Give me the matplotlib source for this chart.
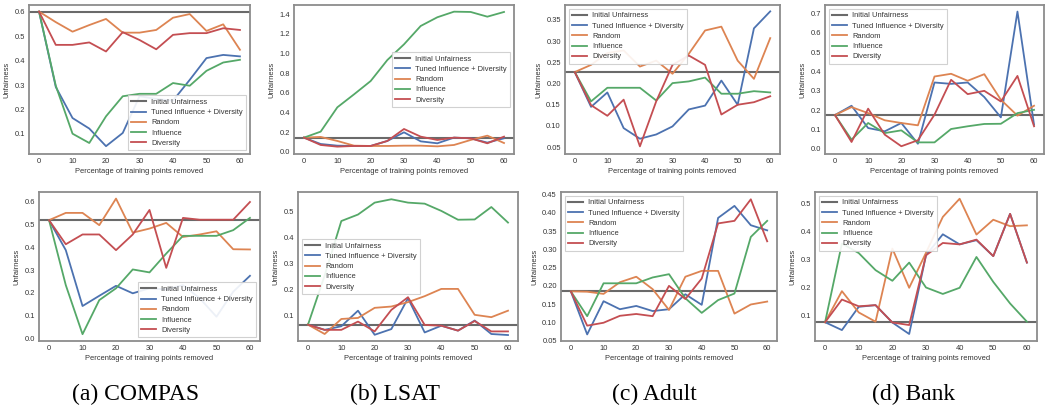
import matplotlib
matplotlib.use("Agg")
import matplotlib.pyplot as plt
import numpy as np

# ---------------- data ----------------
x_removed = [0, 5, 10, 15, 20, 25, 30, 35, 40, 45, 50, 55, 60]
series_names = ["Tuned Influence + Diversity", "Random", "Influence", "Diversity"]
initial_label = "Initial Unfairness"
captions = ["(a) COMPAS", "(b) LSAT", "(c) Adult", "(d) Bank"]
x_label = "Percentage of training points removed"
y_label = "Unfairness"

# top row
compas_top_initial = 0.6
compas_top_tuned = [0.6, 0.292, 0.165, 0.122, 0.05, 0.104, 0.254, 0.243, 0.236, 0.321, 0.41, 0.423, 0.417]
compas_top_random = [0.6, 0.557, 0.518, 0.545, 0.570, 0.514, 0.514, 0.525, 0.575, 0.590, 0.521, 0.548, 0.444]
compas_top_influence = [0.6, 0.297, 0.101, 0.063, 0.172, 0.254, 0.264, 0.264, 0.308, 0.297, 0.358, 0.392, 0.403]
compas_top_diversity = [0.6, 0.464, 0.464, 0.474, 0.437, 0.516, 0.484, 0.446, 0.505, 0.512, 0.512, 0.532, 0.525]

lsat_top_initial = 0.143
lsat_top_tuned = [0.143, 0.078, 0.061, 0.058, 0.058, 0.109, 0.197, 0.105, 0.085, 0.143, 0.136, 0.092, 0.136]
lsat_top_random = [0.143, 0.150, 0.109, 0.061, 0.058, 0.058, 0.061, 0.061, 0.054, 0.068, 0.119, 0.163, 0.088]
lsat_top_influence = [0.143, 0.204, 0.452, 0.584, 0.72, 0.934, 1.094, 1.281, 1.37, 1.427, 1.424, 1.376, 1.424]
lsat_top_diversity = [0.143, 0.068, 0.051, 0.058, 0.058, 0.109, 0.231, 0.153, 0.119, 0.143, 0.136, 0.085, 0.153]

adult_top_initial = 0.227
adult_top_tuned = [0.227, 0.145, 0.179, 0.095, 0.07, 0.08, 0.099, 0.139, 0.148, 0.207, 0.15, 0.33, 0.37]
adult_top_random = [0.227, 0.244, 0.272, 0.278, 0.24, 0.254, 0.223, 0.27, 0.325, 0.334, 0.254, 0.211, 0.307]
adult_top_influence = [0.227, 0.158, 0.19, 0.19, 0.19, 0.16, 0.201, 0.205, 0.214, 0.176, 0.176, 0.182, 0.179]
adult_top_diversity = [0.227, 0.149, 0.124, 0.162, 0.052, 0.158, 0.244, 0.266, 0.244, 0.127, 0.15, 0.156, 0.17]

bank_top_initial = 0.175
bank_top_tuned = [0.175, 0.223, 0.108, 0.091, 0.134, 0.027, 0.343, 0.336, 0.343, 0.268, 0.163, 0.709, 0.125]
bank_top_random = [0.175, 0.216, 0.185, 0.148, 0.134, 0.122, 0.374, 0.388, 0.352, 0.386, 0.254, 0.172, 0.223]
bank_top_influence = [0.175, 0.048, 0.134, 0.082, 0.096, 0.034, 0.034, 0.103, 0.117, 0.129, 0.13, 0.185, 0.202]
bank_top_diversity = [0.175, 0.036, 0.208, 0.074, 0.014, 0.045, 0.177, 0.357, 0.283, 0.3, 0.245, 0.377, 0.117]

# bottom row
compas_bot_initial = 0.52
compas_bot_tuned = [0.52, 0.388, 0.142, 0.187, 0.231, 0.198, 0.22, 0.215, 0.234, 0.176, 0.095, 0.205, 0.275]
compas_bot_random = [0.52, 0.552, 0.552, 0.498, 0.615, 0.465, 0.483, 0.508, 0.446, 0.457, 0.471, 0.392, 0.391]
compas_bot_influence = [0.52, 0.234, 0.018, 0.168, 0.22, 0.303, 0.29, 0.373, 0.451, 0.451, 0.451, 0.476, 0.53]
compas_bot_diversity = [0.52, 0.414, 0.457, 0.457, 0.388, 0.457, 0.565, 0.31, 0.53, 0.522, 0.522, 0.522, 0.6]

lsat_bot_initial = 0.065
lsat_bot_tuned = [0.065, 0.045, 0.059, 0.119, 0.026, 0.048, 0.167, 0.035, 0.061, 0.042, 0.081, 0.029, 0.025]
lsat_bot_random = [0.065, 0.029, 0.087, 0.091, 0.13, 0.135, 0.152, 0.175, 0.203, 0.203, 0.103, 0.094, 0.119]
lsat_bot_influence = [0.065, 0.255, 0.465, 0.49, 0.536, 0.549, 0.536, 0.532, 0.504, 0.47, 0.471, 0.519, 0.459]
lsat_bot_diversity = [0.065, 0.045, 0.045, 0.077, 0.039, 0.122, 0.171, 0.064, 0.061, 0.042, 0.079, 0.039, 0.039]

adult_bot_initial = 0.185
adult_bot_tuned = [0.185, 0.067, 0.158, 0.136, 0.145, 0.131, 0.136, 0.177, 0.148, 0.386, 0.419, 0.366, 0.352]
adult_bot_random = [0.185, 0.184, 0.178, 0.21, 0.225, 0.191, 0.134, 0.225, 0.241, 0.241, 0.124, 0.149, 0.157]
adult_bot_influence = [0.185, 0.117, 0.207, 0.207, 0.207, 0.223, 0.232, 0.166, 0.126, 0.161, 0.179, 0.334, 0.378]
adult_bot_diversity = [0.185, 0.091, 0.099, 0.118, 0.123, 0.117, 0.2, 0.164, 0.22, 0.371, 0.378, 0.437, 0.322]

bank_bot_initial = 0.077
bank_bot_tuned = [0.077, 0.049, 0.132, 0.138, 0.076, 0.035, 0.316, 0.391, 0.355, 0.37, 0.313, 0.464, 0.29]
bank_bot_random = [0.077, 0.188, 0.112, 0.079, 0.34, 0.2, 0.325, 0.453, 0.518, 0.39, 0.443, 0.42, 0.423]
bank_bot_influence = [0.077, 0.358, 0.324, 0.263, 0.225, 0.29, 0.201, 0.178, 0.2, 0.31, 0.221, 0.144, 0.079]
bank_bot_diversity = [0.077, 0.158, 0.134, 0.138, 0.076, 0.067, 0.316, 0.36, 0.355, 0.372, 0.313, 0.464, 0.29]

# ---------------- style ----------------
plt.rcParams["font.family"] = ["Liberation Sans", "DejaVu Sans"]
FS = 5.4
colors = ["#4C72B0", "#DD8452", "#55A868", "#C44E52"]
init_color = "#6a6a6a"
spine_color = "#8c8c8c"

W, H = 1045, 408
fig = plt.figure(figsize=(W / 100, H / 100), dpi=100)


def px_axes(l, t, r, b):
    return fig.add_axes([l / W, 1 - b / H, (r - l) / W, (b - t) / H])


panels = [
    # (box px, initial, series, ylim, ystep, legend loc)
    ((29, 5, 250, 154), compas_top_initial,
     [compas_top_tuned, compas_top_random, compas_top_influence, compas_top_diversity],
     (0.018, 0.627), 0.1, "lower right"),
    ((294, 5, 514, 154), lsat_top_initial,
     [lsat_top_tuned, lsat_top_random, lsat_top_influence, lsat_top_diversity],
     (-0.024, 1.495), 0.2, "center right"),
    ((565, 5, 780, 154), adult_top_initial,
     [adult_top_tuned, adult_top_random, adult_top_influence, adult_top_diversity],
     (0.034, 0.385), 0.05, "upper left"),
    ((825, 5, 1044, 154), bank_top_initial,
     [bank_top_tuned, bank_top_random, bank_top_influence, bank_top_diversity],
     (-0.026, 0.743), 0.1, "upper left"),
    ((39, 192, 260, 341), compas_bot_initial,
     [compas_bot_tuned, compas_bot_random, compas_bot_influence, compas_bot_diversity],
     (-0.012, 0.644), 0.1, "lower right"),
    ((298, 192, 518, 341), lsat_bot_initial,
     [lsat_bot_tuned, lsat_bot_random, lsat_bot_influence, lsat_bot_diversity],
     (0.002, 0.577), 0.1, "center left"),
    ((561, 192, 777, 341), adult_bot_initial,
     [adult_bot_tuned, adult_bot_random, adult_bot_influence, adult_bot_diversity],
     (0.049, 0.457), 0.05, "upper left"),
    ((815, 192, 1037, 341), bank_bot_initial,
     [bank_bot_tuned, bank_bot_random, bank_bot_influence, bank_bot_diversity],
     (0.01, 0.542), 0.1, "upper left"),
]

for box, init, series, ylim, ystep, loc in panels:
    ax = px_axes(*box)
    ax.axhline(init, color=init_color, lw=1.5, label=initial_label)
    for vals, name, c in zip(series, series_names, colors):
        ax.plot(x_removed, vals, color=c, lw=1.3, label=name)
    ax.set_xlim(-3, 63)
    ax.set_ylim(*ylim)
    ax.set_xticks([0, 10, 20, 30, 40, 50, 60])
    ax.yaxis.set_major_locator(matplotlib.ticker.MultipleLocator(ystep))
    ax.tick_params(labelsize=FS, length=0, pad=3, colors="#333333")
    for s in ax.spines.values():
        s.set_color(spine_color)
        s.set_linewidth(1.3)
    ax.set_xlabel(x_label, fontsize=FS, labelpad=2, color="#333333")
    ax.set_ylabel(y_label, fontsize=FS, labelpad=3, color="#333333")
    leg = ax.legend(loc=loc, fontsize=FS, frameon=True, framealpha=0.9,
                    edgecolor="#cccccc", fancybox=False, borderpad=0.45,
                    handlelength=2.0, handletextpad=0.7, labelspacing=0.4)
    leg.get_frame().set_linewidth(0.8)
    for t in leg.get_texts():
        t.set_color("#333333")

caption_x = [136, 395, 654, 914]
for cx, cap in zip(caption_x, captions):
    fig.text(cx / W, 1 - 394 / H, cap, ha="center", va="center",
             fontsize=17, family=["Liberation Serif", "DejaVu Serif"])

fig.savefig("out.png", dpi=100, facecolor="white")
